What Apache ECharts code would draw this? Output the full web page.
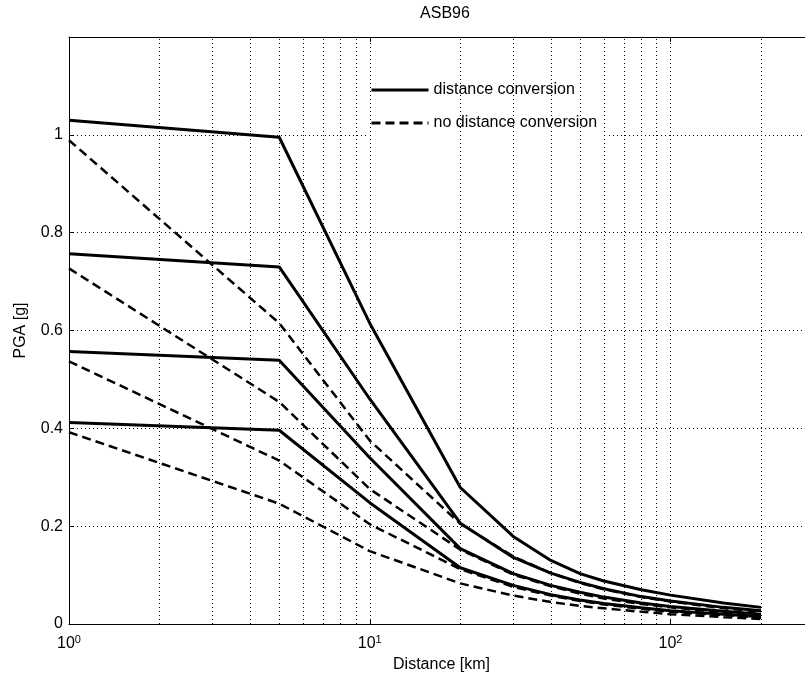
<!DOCTYPE html>
<html lang="en">
  <head>
    <meta charset="UTF-8" />
    <title>ASB96</title>
    <script src="https://cdn.jsdelivr.net/npm/echarts@6/dist/echarts.min.js"></script>
  </head>
  <body style="margin:0;background:#fff;">
    <div id="main" style="width: 805px; height: 680px;"></div>
    <script type="text/javascript">
      // distances [km]
      var distance = [1, 5, 10, 20, 30, 40, 50, 60, 80, 100, 150, 200];

      // PGA [g], with distance conversion (solid)
      var convA = [1.030, 0.995, 0.615, 0.279, 0.179, 0.130, 0.103, 0.088, 0.070, 0.059, 0.043, 0.034];
      var convB = [0.757, 0.730, 0.460, 0.206, 0.136, 0.104, 0.085, 0.072, 0.056, 0.047, 0.034, 0.027];
      var convC = [0.557, 0.539, 0.340, 0.154, 0.103, 0.079, 0.065, 0.055, 0.043, 0.036, 0.026, 0.020];
      var convD = [0.412, 0.396, 0.248, 0.115, 0.079, 0.060, 0.049, 0.042, 0.033, 0.027, 0.020, 0.015];

      // PGA [g], no distance conversion (dashed)
      var rawA = [0.989, 0.615, 0.375, 0.205, 0.138, 0.104, 0.084, 0.071, 0.055, 0.046, 0.032, 0.025];
      var rawB = [0.727, 0.454, 0.276, 0.152, 0.101, 0.077, 0.062, 0.052, 0.041, 0.034, 0.024, 0.018];
      var rawC = [0.537, 0.334, 0.204, 0.112, 0.076, 0.058, 0.047, 0.040, 0.031, 0.025, 0.018, 0.013];
      var rawD = [0.392, 0.246, 0.149, 0.083, 0.058, 0.045, 0.037, 0.032, 0.025, 0.020, 0.014, 0.010];

      // vertical grid lines of the log axis
      var xGrid = [2, 3, 4, 5, 6, 7, 8, 9, 10, 20, 30, 40, 50, 60, 70, 80, 90, 100, 200];

      var FONT = "Liberation Sans, Arial, sans-serif";
      var SOLID = "distance conversion";
      var DASHED = "no distance conversion";

      function pairs(ys) {
        return distance.map(function (d, i) {
          return [d, ys[i]];
        });
      }

      function curve(name, ys, dashed) {
        return {
          name: name,
          type: "line",
          data: pairs(ys),
          symbol: "none",
          z: 5,
          itemStyle: { color: "#000" },
          lineStyle: {
            color: "#000",
            width: dashed ? 2.5 : 3,
            type: dashed ? [9, 5] : "solid"
          }
        };
      }

      var myChart = echarts.init(document.getElementById("main"));

      var option = {
        animation: false,
        backgroundColor: "#fff",
        title: {
          text: "ASB96",
          left: 440,
          textAlign: "center",
          top: 1,
          textStyle: { fontFamily: FONT, fontSize: 16, fontWeight: "normal", color: "#000" }
        },
        grid: {
          left: 69,
          top: 37,
          right: -9,
          bottom: 56,
          outerBoundsMode: "none",
          containLabel: false,
          show: false
        },
        legend: {
          data: [SOLID, DASHED],
          orient: "vertical",
          left: 366,
          top: 77,
          itemWidth: 57,
          itemHeight: 14,
          itemGap: 15,
          padding: [4, 10, 4, 4],
          backgroundColor: "#fff",
          itemStyle: { opacity: 0 },
          lineStyle: { width: 3 },
          textStyle: { fontFamily: FONT, fontSize: 16, color: "#000", lineHeight: 18 }
        },
        xAxis: [
          {
            type: "log",
            logBase: 10,
            min: 1,
            max: 300,
            name: "Distance [km]",
            nameLocation: "middle",
            nameGap: 32,
            nameTextStyle: { fontFamily: FONT, fontSize: 16, color: "#000" },
            axisLine: { show: true, lineStyle: { color: "#000" } },
            axisTick: { show: true, inside: true, length: 5, lineStyle: { color: "#000" } },
            splitLine: { show: false },
            axisLabel: {
              margin: 10,
              showMaxLabel: false,
              formatter: function (v) {
                var e = Math.log10(v);
                if (Math.abs(e - Math.round(e)) > 1e-6) return "";
                return "{b|10}{s|" + Math.round(e) + "}";
              },
              rich: {
                b: { fontFamily: FONT, fontSize: 16, color: "#000" },
                s: { fontFamily: FONT, fontSize: 11, color: "#000", padding: [0, 0, 9, 0] }
              }
            }
          },
          {
            type: "log",
            logBase: 10,
            min: 1,
            max: 300,
            position: "top",
            axisLine: { show: true, onZero: false, lineStyle: { color: "#000" } },
            axisTick: { show: true, inside: true, length: 5, lineStyle: { color: "#000" } },
            axisLabel: { show: false },
            splitLine: { show: false }
          }
        ],
        yAxis: {
          type: "value",
          min: 0,
          max: 1.2,
          interval: 0.2,
          name: "PGA [g]",
          nameLocation: "middle",
          nameGap: 40,
          nameTextStyle: { fontFamily: FONT, fontSize: 16, color: "#000" },
          axisLine: { show: true, lineStyle: { color: "#000" } },
          axisTick: { show: true, inside: true, length: 5, lineStyle: { color: "#000" } },
          axisLabel: {
            fontFamily: FONT,
            fontSize: 16,
            color: "#000",
            margin: 6,
            formatter: function (v) {
              if (v > 1.1) return "";
              return String(Math.round(v * 10) / 10);
            }
          },
          splitLine: { show: true, lineStyle: { color: "#000", width: 1, type: [1, 3] } }
        },
        series: [
          {
            name: "grid",
            type: "line",
            data: [],
            z: 1,
            markLine: {
              silent: true,
              symbol: ["none", "none"],
              label: { show: false },
              animation: false,
              lineStyle: { color: "#000", width: 1, type: [1, 3] },
              data: xGrid.map(function (v) {
                return { xAxis: v };
              })
            }
          },
          curve(SOLID, convA, false),
          curve(SOLID, convB, false),
          curve(SOLID, convC, false),
          curve(SOLID, convD, false),
          curve(DASHED, rawA, true),
          curve(DASHED, rawB, true),
          curve(DASHED, rawC, true),
          curve(DASHED, rawD, true)
        ]
      };

      myChart.setOption(option);
    </script>
  </body>
</html>
